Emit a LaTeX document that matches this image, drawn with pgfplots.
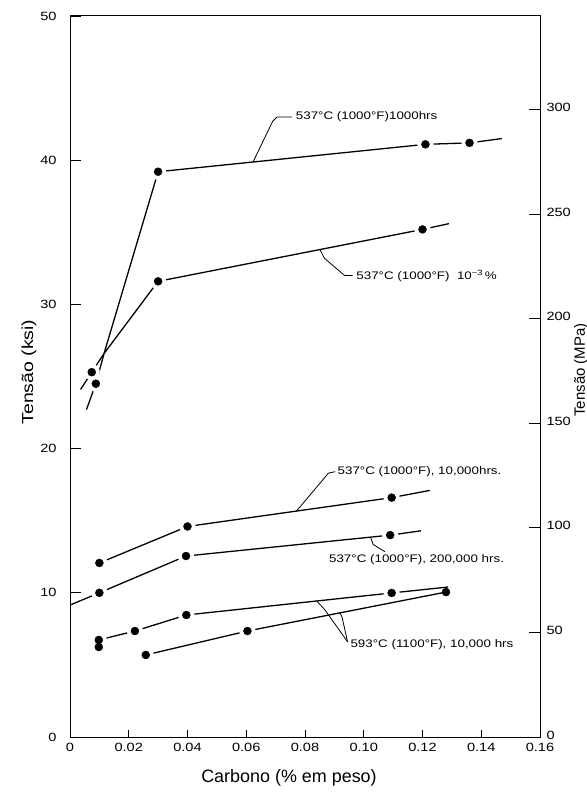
\documentclass[border=0pt]{standalone}
\usepackage{fontspec}
\setmainfont{Liberation Sans}
\newfontfamily\wide[FakeStretch=1.22]{Liberation Sans}
\usepackage{pgfplots}
\pgfplotsset{compat=1.18}
\usepackage{pgfplotstable}

\newcommand\tickfont{\wide\fontsize{12}{14}\selectfont}
\newcommand\annfont{\wide\fontsize{11}{13}\selectfont}

% 537C 1000 hrs
\pgfplotstableread{
x y
0.0036 24.1
0.0074 25.3
0.0116 26.6
0.030 39.2
0.121 41.1
0.136 41.2
0.147 41.5
}\lineA
\pgfplotstableread{
x y
0.0074 25.3
0.030 39.2
0.121 41.1
0.136 41.2
}\markA
% 537C 10^-3 %
\pgfplotstableread{
x y
0.0056 22.7
0.0088 24.5
0.0116 26.6
0.030 31.6
0.120 35.2
0.129 35.6
}\lineB
\pgfplotstableread{
x y
0.0088 24.5
0.030 31.6
0.120 35.2
}\markB
% 537C 10,000 hrs
\pgfplotstableread{
x y
0.010 12.07
0.040 14.6
0.1095 16.6
0.1225 17.1
}\lineC
\pgfplotstableread{
x y
0.010 12.07
0.040 14.6
0.1095 16.6
}\markC
% 537C 200,000 hrs
\pgfplotstableread{
x y
0.000 9.15
0.010 10.0
0.0395 12.55
0.109 14.0
0.1195 14.3
}\lineD
\pgfplotstableread{
x y
0.010 10.0
0.0395 12.55
0.109 14.0
}\markD
% 593C 10,000 hrs (upper)
\pgfplotstableread{
x y
0.0098 6.73
0.0221 7.35
0.0396 8.46
0.1095 9.99
0.1287 10.4
}\lineE
\pgfplotstableread{
x y
0.0098 6.73
0.0098 6.24
0.0221 7.35
0.0396 8.46
0.1095 9.99
}\markE
% 593C 10,000 hrs (lower)
\pgfplotstableread{
x y
0.0258 5.69
0.0604 7.35
0.128 10.05
}\lineF
\pgfplotstableread{
x y
0.0258 5.69
0.0604 7.35
}\markF
\pgfplotstableread{
x y
0.128 10.05
}\markFend

\pgfplotsset{
  dataline/.style={black, line width=1.3bp, no markers},
  halo/.style={only marks, white, mark=*, mark size=8bp, mark options={draw=white, fill=white, line width=0.1bp}},
  dot/.style={only marks, black, mark=*, mark size=4bp, mark options={draw=black, fill=black}},
}

\begin{document}
\begin{tikzpicture}
\useasboundingbox (-70bp,-62bp) rectangle (517bp,737bp);
% main axis with data and x ticks
\begin{axis}[
  scale only axis, width=470bp, height=721bp,
  xmin=0, xmax=0.16, ymin=0, ymax=50,
  xtick={0,0.02,0.04,0.06,0.08,0.10,0.12,0.14,0.16},
  xticklabels={0,0.02,0.04,0.06,0.08,0.10,0.12,0.14,0.16},
  xtick pos=bottom, ytick=\empty,
  tick align=inside, major tick length=7bp,
  xticklabel style={font=\tickfont, yshift=-3bp},
  /pgf/number format/assume math mode=true,
  tick style={black, line width=0.9bp},
  axis line style={line width=1bp},
  clip=false,
]
\addplot[dataline] table {\lineA};
\addplot[dataline] table {\lineB};
\addplot[dataline] table {\lineC};
\addplot[dataline] table {\lineD};
\addplot[dataline] table {\lineE};
\addplot[dataline] table {\lineF};
\addplot[halo] table {\markA};
\addplot[halo] table {\markB};
\addplot[halo] table {\markC};
\addplot[halo] table {\markD};
\addplot[halo] table {\markE};
\addplot[halo] table {\markF};
\addplot[dot] table {\markA};
\addplot[dot] table {\markB};
\addplot[dot] table {\markC};
\addplot[dot] table {\markD};
\addplot[dot] table {\markE};
\addplot[dot] table {\markF};
\addplot[dot] table {\markFend};
% labels and leaders
\node[anchor=west, font=\annfont, inner sep=1bp] at (axis cs:0.0765,43.0) {537°C (1000°F)1000hrs};
\draw[line width=0.8bp] (axis cs:0.0755,43.0) -- (axis cs:0.0705,43.0) -- (axis cs:0.0690,42.7) -- (axis cs:0.0623,39.87);

\node[anchor=west, font=\annfont, inner sep=1bp] at (axis cs:0.0971,32.0) {537°C (1000°F)\ \ 10\textsuperscript{−3}\,\%};
\draw[line width=0.8bp] (axis cs:0.0851,33.8) -- (axis cs:0.0866,33.2) -- (axis cs:0.0935,32.0) -- (axis cs:0.0962,32.0);

\node[anchor=west, font=\annfont, inner sep=1bp] at (axis cs:0.0907,18.38) {537°C (1000°F), 10,000hrs.};
\draw[line width=0.8bp] (axis cs:0.0903,18.4) -- (axis cs:0.0880,18.3) -- (axis cs:0.0771,15.67);

\node[anchor=west, font=\annfont, inner sep=1bp] at (axis cs:0.0878,12.27) {537°C (1000°F), 200,000 hrs.};
\draw[line width=0.8bp] (axis cs:0.1023,13.86) -- (axis cs:0.1032,13.35) -- (axis cs:0.1072,12.85);

\node[anchor=west, font=\annfont, inner sep=1bp] at (axis cs:0.0951,6.38) {593°C (1100°F), 10,000 hrs};
\draw[line width=0.8bp] (axis cs:0.0945,6.6) -- (axis cs:0.0868,8.81) -- (axis cs:0.084,9.43);
\draw[line width=0.8bp] (axis cs:0.0945,6.6) -- (axis cs:0.0926,8.32) -- (axis cs:0.0919,8.61);
\end{axis}
% left ksi axis
\begin{axis}[
  scale only axis, width=470bp, height=721bp,
  xmin=0, xmax=0.16, ymin=0, ymax=50,
  hide x axis, axis y line*=left,
  ytick={0,10,20,30,40,50},
  tick align=inside, major tick length=11bp,
  yticklabel style={font=\tickfont, xshift=-10bp},
  /pgf/number format/assume math mode=true,
  tick style={black, line width=0.9bp},
  axis line style={line width=1bp},
]
\end{axis}
% right MPa axis
\begin{axis}[
  scale only axis, width=470bp, height=721bp,
  xmin=0, xmax=0.16, ymin=0, ymax=344.738,
  hide x axis, axis y line*=right,
  ytick={0,50,100,150,200,250,300},
  tick align=inside, major tick length=11bp,
  yticklabel style={font=\tickfont, xshift=3bp, yshift=2bp},
  /pgf/number format/assume math mode=true,
  tick style={black, line width=0.9bp},
  axis line style={line width=1bp},
]
\end{axis}
\node[rotate=90, font=\wide\fontsize{16}{18}\selectfont] at (-41bp,365bp) {Tensão (ksi)};
\node[rotate=90, font=\fontsize{15}{17}\selectfont] at (511bp,367bp) {Tensão (MPa)};
\node[font=\fontsize{18}{20}\selectfont] at (219bp,-41bp) {Carbono (\% em peso)};
\end{tikzpicture}
\end{document}
